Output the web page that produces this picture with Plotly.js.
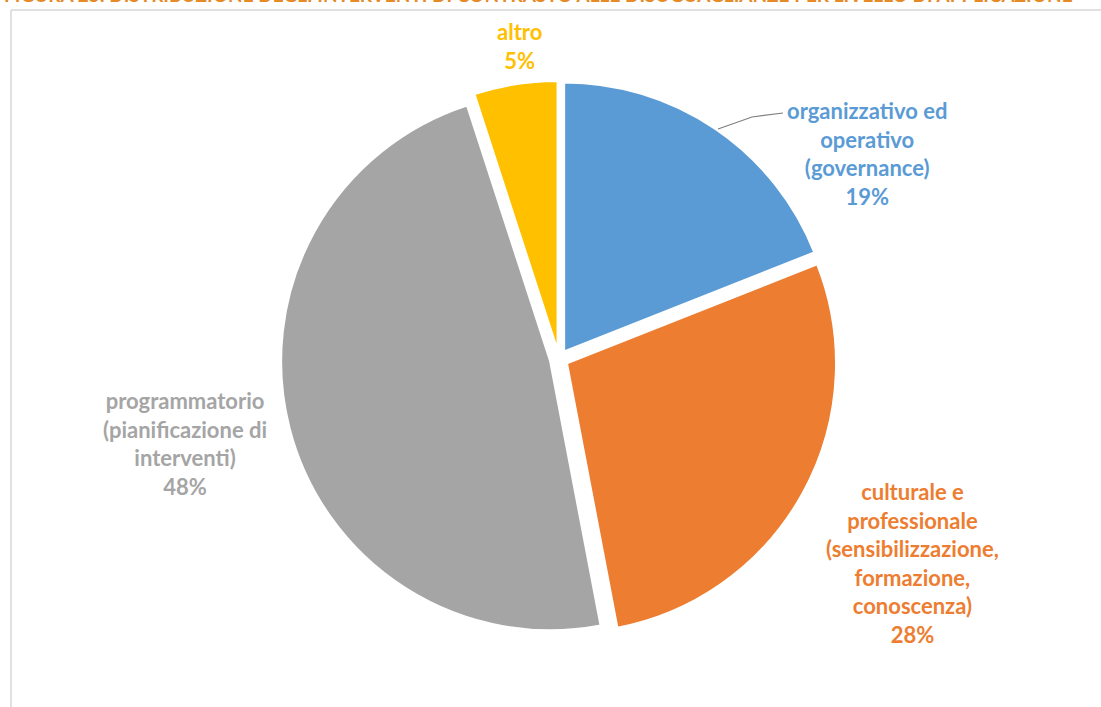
<!DOCTYPE html>
<html><head><meta charset="utf-8">
<script src="https://cdn.plot.ly/plotly-3.0.1.min.js"></script>
<style>html,body{margin:0;padding:0;background:#fff;overflow:hidden;} #chart{width:1101px;height:707px;}</style>
</head><body><div id="chart"></div>
<script>
// ---- data ----
const categories = [
  "organizzativo ed operativo (governance)",
  "culturale e professionale (sensibilizzazione, formazione, conoscenza)",
  "programmatorio (pianificazione di interventi)",
  "altro"
];
const labelLines = [
  ["organizzativo ed", "operativo", "(governance)"],
  ["culturale e", "professionale", "(sensibilizzazione,", "formazione,", "conoscenza)"],
  ["programmatorio", "(pianificazione di", "interventi)"],
  ["altro"]
];
const values = [19, 28, 48, 5];
const colors = ["#5B9BD5", "#ED7D31", "#A5A5A5", "#FFC000"];
const titleText = "FIGURA 25: DISTRIBUZIONE DEGLI INTERVENTI DI CONTRASTO ALLE DISUGUAGLIANZE PER LIVELLO DI APPLICAZIONE";

// ---- layout helpers (pixel -> paper) ----
const W = 1101, H = 707;
const px = x => x / W;
const py = y => 1 - y / H;

const cx = 559, cy = 359, r = 269, pull = 0.034;
const half = r * (1 + pull);

const total = values.reduce((a, b) => a + b, 0);
const pct = values.map(v => Math.round(v / total * 100) + "%");

// label placement (pixels) and alignment
const labelPos = [
  {x: 867, y: 153},
  {x: 912, y: 563},
  {x: 185, y: 443},
  {x: 519, y: 46}
];

const annotations = categories.map((c, i) => ({
  xref: "paper", yref: "paper",
  x: px(labelPos[i].x), y: py(labelPos[i].y),
  xanchor: "center", yanchor: "middle", align: "center",
  showarrow: false,
  text: labelLines[i].concat([pct[i]]).join("<br>"),
  font: {family: "Lato, 'Open Sans', sans-serif", size: 22, color: colors[i], weight: "bold"}
}));

annotations.push({
  xref: "paper", yref: "paper", x: px(2), y: py(8),
  xanchor: "left", yanchor: "bottom", showarrow: false,
  text: titleText,
  font: {family: "Lato, sans-serif", size: 19, color: "#E58A25", weight: "bold"}
});

const leader = [[718, 129], [752, 117], [783, 113]];
const leaderPath = leader.map((p, i) => (i ? "L" : "M") + px(p[0]) + "," + py(p[1])).join(" ");

const shapes = [
  {type: "path", xref: "paper", yref: "paper", path: leaderPath, line: {color: "#7F7F7F", width: 1.2}},
  {type: "line", xref: "paper", yref: "paper", x0: px(11), x1: px(1101), y0: py(10), y1: py(10), line: {color: "#D6D6D6", width: 1.5}},
  {type: "line", xref: "paper", yref: "paper", x0: px(11), x1: px(11), y0: py(10), y1: py(707), line: {color: "#D6D6D6", width: 1.5}}
];

const trace = {
  type: "pie",
  labels: categories,
  values: values,
  sort: false,
  direction: "clockwise",
  rotation: 0,
  pull: values.map(() => pull),
  marker: {colors: colors, line: {color: "#FFFFFF", width: 2}},
  textinfo: "none",
  hoverinfo: "label+percent",
  domain: {x: [px(cx - half), px(cx + half)], y: [py(cy + half), py(cy - half)]}
};

Plotly.newPlot("chart", [trace], {
  width: W, height: H,
  margin: {l: 0, r: 0, t: 0, b: 0},
  paper_bgcolor: "#FFFFFF",
  showlegend: false,
  annotations: annotations,
  shapes: shapes
}, {displayModeBar: false});
</script>
</body></html>
